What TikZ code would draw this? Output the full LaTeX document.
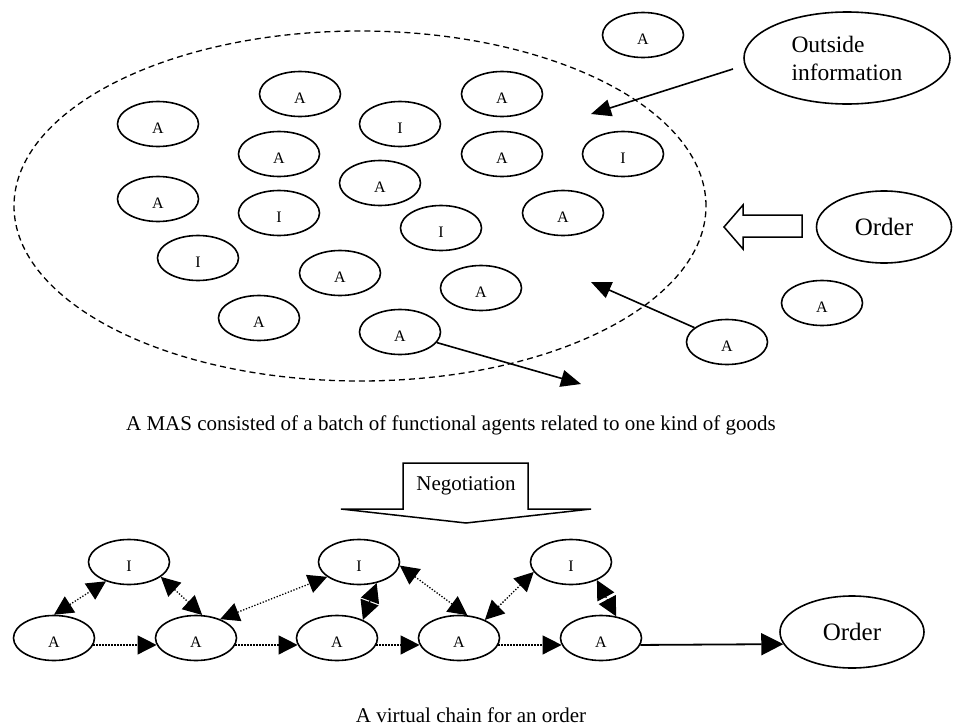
\documentclass[tikz,border=0pt]{standalone}
\usepackage{fontspec}
\setmainfont{Liberation Serif}
\usetikzlibrary{shapes.geometric,arrows.meta,calc}
\begin{document}
\begin{tikzpicture}[x=1pt,y=-1pt,
  ag/.style={ellipse,draw,line width=1.6pt,minimum width=81pt,minimum height=45pt,inner sep=0pt,
     text height=19pt,text depth=0pt,font=\fontsize{16}{16}\selectfont},
  big/.style={ellipse,draw,line width=1.6pt,inner sep=0pt,font=\fontsize{25}{25}\selectfont},
  captext/.style={font=\fontsize{21}{21}\selectfont,inner sep=0pt},
  conn/.style={line width=1.6pt,-{Triangle[length=20pt,width=17pt]}},
  bigconn/.style={line width=1.8pt,-{Triangle[length=22pt,width=22pt]}},
  dotarr/.style={line width=1.3pt,dash pattern=on 1.3pt off 1.7pt,-{Triangle[length=19pt,width=19pt]}},
  dotdbl/.style={line width=1.3pt,dash pattern=on 1.3pt off 1.7pt,{Triangle[length=19pt,width=19pt]}-{Triangle[length=19pt,width=19pt]}},
  blockarrow/.style={draw,line width=1.5pt,fill=white,line join=miter}
]
\fill[white] (0,0) rectangle (954,726);
\useasboundingbox (0,0) rectangle (954,726);

% large dashed region
\node[ellipse,draw,line width=1.3pt,dash pattern=on 6pt off 4pt,minimum width=692pt,minimum height=350pt,inner sep=0pt] (mas) at (360,206) {};

% agents inside the MAS
\node[ag] (t1) at (300,94) {A};
\node[ag] (t2) at (502,94) {A};
\node[ag] (t3) at (158,124) {A};
\node[ag] (t4) at (400,124) {I};
\node[ag] (t5) at (279,154) {A};
\node[ag] (t6) at (502,154) {A};
\node[ag] (t7) at (623,154) {I};
\node[ag] (t8) at (380,183) {A};
\node[ag] (t9) at (158,199) {A};
\node[ag] (t10) at (279,213) {I};
\node[ag] (t11) at (441,228) {I};
\node[ag] (t12) at (563,213) {A};
\node[ag] (t13) at (198,258) {I};
\node[ag] (t14) at (340,273) {A};
\node[ag] (t15) at (481,288) {A};
\node[ag] (t16) at (259,318) {A};
\node[ag] (t17) at (400,332) {A};

% agents outside
\node[ag] (tA) at (643,35) {A};
\node[ag] (rA1) at (822,303) {A};
\node[ag] (rA2) at (727,342) {A};

\node[big,minimum width=206pt,minimum height=92pt,align=left,font=\fontsize{23.5}{28}\selectfont] (OI) at (847,58) {Outside\\information};
\node[big,minimum width=135pt,minimum height=72pt] (ordT) at (884,227) {Order};

% arrows in the top part
\coordinate (oiS) at (733,69);
\coordinate (oiT) at (591,114);
\draw[conn] (oiS) -- (oiT);
\coordinate (inT) at (591,282);
\draw[conn] (rA2) -- (inT);
\coordinate (outT) at (581,384);
\draw[conn] (t17) -- (outT);

% hollow block arrow from the order
\draw[blockarrow] (802,215) -- (743,215) -- (743,205) -- (724,227) -- (743,249) -- (743,237) -- (802,237) -- cycle;

% caption 1
\node[captext] (cap1) at (451,425) {A MAS consisted of a batch of functional agents related to one kind of goods};

% negotiation block arrow
\draw[blockarrow] (403,463) -- (528,463) -- (528,509) -- (591,509) -- (466,523) -- (341,509) -- (403,509) -- cycle;
\node[captext] (neg) at (466,486) {Negotiation};

% virtual chain
\node[ag] (a1) at (54,638) {A};
\node[ag] (i1) at (129,562) {I};
\node[ag] (a2) at (196,638) {A};
\node[ag] (i2) at (359,562) {I};
\node[ag] (a3) at (337,638) {A};
\node[ag] (a4) at (459,638) {A};
\node[ag] (i3) at (571,562) {I};
\node[ag] (a5) at (601,638) {A};
\node[big,minimum width=144pt,minimum height=72pt] (ordB) at (852,632) {Order};

\draw[dotarr] (a1.-10) -- (a2.190);
\draw[dotarr] (a2.-10) -- (a3.190);
\draw[dotarr] (a3.-10) -- (a4.190);
\draw[dotarr] (a4.-10) -- (a5.190);
\draw[bigconn] (a5.-10) -- (ordB.190);

\draw[dotdbl] (a1.north) -- (i1.220);
\draw[dotdbl] (i1.335) -- (a2.75);
\draw[dotdbl] (a2.38) -- (i2.205);
\draw[dotdbl] (a3.35) -- (i2.310);
\draw[dotdbl] (i2.355) -- (a4.70);
\draw[dotdbl] (a4.35) -- (i3.195);
\draw[dotdbl] (i3.325) -- (a5.55);

% caption 2
\node[captext] (cap2) at (471,715) {A virtual chain for an order};
\end{tikzpicture}
\end{document}
